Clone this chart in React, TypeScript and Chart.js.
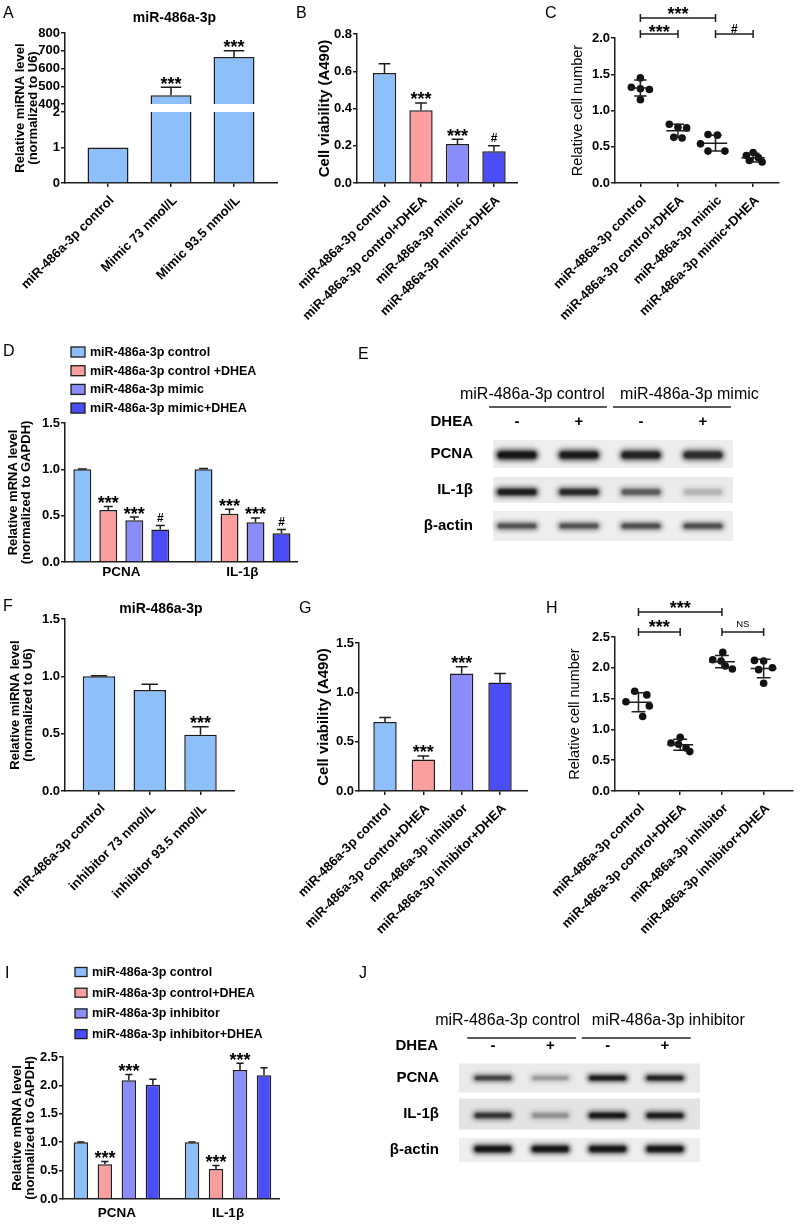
import React, { useEffect, useRef } from 'react';
import { Chart, registerables, LinearScale } from 'chart.js';

Chart.register(...registerables);

const FONT = "'Liberation Sans', Arial, Helvetica, sans-serif";

/* ============================ DATA ============================ */
// Panel A
const A_TITLE = 'miR-486a-3p';
const A_LABELS = ['miR-486a-3p control', 'Mimic 73 nmol/L', 'Mimic 93.5 nmol/L'];
const A_VALUES = [1, 450, 665];
const A_ERRORS = [0, 45, 35];
const A_SIG = ['', '***', '***'];
const A_Y_TICKS = [0, 1, 2, 400, 500, 600, 700, 800];
const A_BREAK_LOW = 2;
const A_BREAK_HIGH = 400;
const MIRNA_TITLE = ['Relative miRNA level', '(normalized to U6)'];

// Panel B
const MIMIC_GROUPS = ['miR-486a-3p control', 'miR-486a-3p control+DHEA', 'miR-486a-3p mimic', 'miR-486a-3p mimic+DHEA'];
const B_VALUES = [0.59, 0.39, 0.21, 0.17];
const B_ERRORS = [0.05, 0.04, 0.025, 0.03];
const B_SIG = ['', '***', '***', '#'];
const VIABILITY_TITLE = 'Cell viability (A490)';

// Panel C
const C_POINTS = [
  [1.45, 1.32, 1.30, 1.29, 1.15],
  [0.81, 0.77, 0.76, 0.63, 0.62],
  [0.67, 0.66, 0.54, 0.44, 0.44],
  [0.42, 0.38, 0.35, 0.31, 0.29],
];
const C_MEANS = [1.31, 0.72, 0.55, 0.35];
const C_SDS = [0.11, 0.09, 0.11, 0.06];
const C_BRACKETS = [
  { from: 0, to: 2, label: '***' },
  { from: 0, to: 1, label: '***' },
  { from: 2, to: 3, label: '#' },
];
const CELL_NUMBER_TITLE = 'Relative cell number';

// Panel D
const GENES = ['PCNA', 'IL-1β'];
const D_SERIES = ['miR-486a-3p control', 'miR-486a-3p control +DHEA', 'miR-486a-3p mimic', 'miR-486a-3p mimic+DHEA'];
const D_VALUES = [[1.0, 1.0], [0.56, 0.52], [0.45, 0.43], [0.35, 0.31]];
const D_ERRORS = [[0.004, 0.01], [0.04, 0.05], [0.035, 0.045], [0.045, 0.04]];
const D_SIG = [['', ''], ['***', '***'], ['***', '***'], ['#', '#']];
const MRNA_TITLE = ['Relative mRNA level', '(normalized to GAPDH)'];

// Panel E
const E_HEADERS = ['miR-486a-3p control', 'miR-486a-3p mimic'];
const TREATMENT = 'DHEA';
const DHEA_SIGNS = ['-', '+', '-', '+'];
const BLOT_ROWS = ['PCNA', 'IL-1β', 'β-actin'];
const E_BANDS = [
  [1.0, 0.95, 0.9, 0.82],
  [0.95, 0.85, 0.55, 0.18],
  [0.62, 0.62, 0.64, 0.64],
];

// Panel F
const F_TITLE = 'miR-486a-3p';
const F_LABELS = ['miR-486a-3p control', 'inhibitor 73 nmol/L', 'inhibitor 93.5 nmol/L'];
const F_VALUES = [1.0, 0.88, 0.49];
const F_ERRORS = [0.004, 0.05, 0.07];
const F_SIG = ['', '', '***'];

// Panel G
const INHIB_GROUPS = ['miR-486a-3p control', 'miR-486a-3p control+DHEA', 'miR-486a-3p inhibitor', 'miR-486a-3p inhibitor+DHEA'];
const G_VALUES = [0.70, 0.32, 1.19, 1.10];
const G_ERRORS = [0.045, 0.035, 0.07, 0.09];
const G_SIG = ['', '***', '***', ''];

// Panel H
const H_POINTS = [
  [1.62, 1.56, 1.45, 1.38, 1.21],
  [0.87, 0.78, 0.76, 0.70, 0.64],
  [2.25, 2.13, 2.11, 2.03, 1.98],
  [2.12, 2.11, 2.00, 1.97, 1.75],
];
const H_MEANS = [1.44, 0.75, 2.10, 1.99];
const H_SDS = [0.155, 0.09, 0.10, 0.15];
const H_BRACKETS = [
  { from: 0, to: 2, label: '***' },
  { from: 0, to: 1, label: '***' },
  { from: 2, to: 3, label: 'NS' },
];

// Panel I
const I_VALUES = [[1.0, 1.0], [0.61, 0.53], [2.09, 2.27], [2.01, 2.18]];
const I_ERRORS = [[0.004, 0.004], [0.05, 0.06], [0.10, 0.12], [0.10, 0.13]];
const I_SIG = [['', ''], ['***', '***'], ['***', '***'], ['', '']];

// Panel J
const J_HEADERS = ['miR-486a-3p control', 'miR-486a-3p inhibitor'];
const J_BANDS = [
  [0.72, 0.28, 1.0, 0.95],
  [0.78, 0.3, 1.0, 0.95],
  [1.0, 1.0, 1.0, 1.0],
];

const PANEL_LETTERS = ['A', 'B', 'C', 'D', 'E', 'F', 'G', 'H', 'I', 'J'];

/* ============================ STYLE ============================ */
const COLORS = ['#8DC0FA', '#FA9E9E', '#8A8DF9', '#4B4DF7'];
const EDGE = '#1c1c1c';
const TICK_FONT = { family: FONT, size: 13, weight: 'bold' as const };
const GROUP_FONT = { family: FONT, size: 13.5, weight: 'bold' as const };
const TITLE2_FONT = { family: FONT, size: 13, weight: 'bold' as const, lineHeight: 1 };
const VIAB_FONT = { family: FONT, size: 15, weight: 'bold' as const, lineHeight: 1 };
const CELLN_FONT = { family: FONT, size: 14.5, weight: 'normal' as const, lineHeight: 1 };
const BLOT_FONT = { family: FONT, size: 15, weight: 'bold' as const };

const LETTER_POS = [[3, 5], [296, 5], [545, 5], [3, 343], [358, 346], [3, 598], [299, 600], [546, 600], [5, 965], [359, 965]];

interface Frame { X: number; Y: number; W: number; H: number; L: number; T: number; R: number; B: number; xMin: number; xMax: number }
const FR_A: Frame = { X: 0, Y: 0, W: 278, H: 340, L: 65, T: 33, R: 278, B: 183, xMin: -0.6825, xMax: 2.698 };
const FR_B: Frame = { X: 262, Y: 0, W: 256, H: 340, L: 357, T: 34, R: 518, B: 183, xMin: -0.753, xMax: 3.658 };
const FR_C: Frame = { X: 520, Y: 0, W: 263, H: 340, L: 615, T: 38, R: 783, B: 183, xMin: -0.675, xMax: 3.689 };
const FR_D: Frame = { X: 0, Y: 340, W: 298, H: 250, L: 65, T: 423, R: 298, B: 562, xMin: -0.4645, xMax: 1.458 };
const FR_E: Frame = { X: 380, Y: 380, W: 398, H: 164, L: 493, T: 436, R: 733, B: 544, xMin: -0.387, xMax: 3.484 };
const FR_F: Frame = { X: 0, Y: 600, W: 235, H: 340, L: 65, T: 619, R: 235, B: 791, xMin: -0.67, xMax: 2.68 };
const FR_G: Frame = { X: 262, Y: 600, W: 266, H: 340, L: 359, T: 643, R: 528, B: 791, xMin: -0.678, xMax: 3.73 };
const FR_H: Frame = { X: 520, Y: 600, W: 277, H: 340, L: 615, T: 637, R: 797, B: 791, xMin: -0.5625, xMax: 3.703 };
const FR_I: Frame = { X: 0, Y: 940, W: 280, H: 286, L: 63, T: 1057, R: 280, B: 1199, xMin: -0.485, xMax: 1.468 };
const FR_J: Frame = { X: 340, Y: 1000, W: 420, H: 168, L: 459, T: 1060, R: 700, B: 1168, xMin: -0.593, xMax: 3.611 };

// horizontal jitter of the dots (in category units), per group
const C_SWARM_X = [[0, -0.24, 0, 0.24, 0], [-0.23, 0, 0.23, -0.11, 0.11], [-0.2, 0.05, -0.4, -0.2, 0.25], [0, -0.18, 0.14, -0.1, 0.24]];
const H_SWARM_X = [[-0.09, 0.2, -0.3, 0.26, 0.1], [0, -0.22, -0.04, 0.14, 0.23], [0.02, -0.22, -0.02, 0.08, 0.25], [-0.22, 0, 0.21, -0.12, 0]];
const C_BRACKET_STYLE = [{ dy: -20, gap: 8 }, { dy: -4, gap: 6 }, { dy: -4, gap: 6 }];
const H_BRACKET_STYLE = [{ dy: -25, gap: 8 }, { dy: -5, gap: 9 }, { dy: -5, gap: 8 }];

const BAR_STYLE = { cap: 0.5, starGap: 7, hashGap: 8 };
const LOW_FRAC = 0.4733;
const GAP_FRAC = 0.0533;

/* ===================== broken axis scale (panel A) ===================== */
class BrokenLinearScale extends LinearScale {
  static id = 'brokenLinear';
  static defaults = (LinearScale as any).defaults;
  getPixelForValue(value: any) {
    const v = Number(value);
    const max = (this as any).max;
    let d: number;
    if (v <= A_BREAK_LOW) d = (v / A_BREAK_LOW) * LOW_FRAC;
    else if (v < A_BREAK_HIGH) d = LOW_FRAC + GAP_FRAC * (v - A_BREAK_LOW) / (A_BREAK_HIGH - A_BREAK_LOW);
    else d = LOW_FRAC + GAP_FRAC + (1 - LOW_FRAC - GAP_FRAC) * (v - A_BREAK_HIGH) / (max - A_BREAK_HIGH);
    return (this as any).getPixelForDecimal(d);
  }
  getValueForPixel(pixel: number) {
    const d = (this as any).getDecimalForPixel(pixel);
    const max = (this as any).max;
    if (d <= LOW_FRAC) return (d / LOW_FRAC) * A_BREAK_LOW;
    if (d <= LOW_FRAC + GAP_FRAC) return A_BREAK_LOW + ((d - LOW_FRAC) / GAP_FRAC) * (A_BREAK_HIGH - A_BREAK_LOW);
    return A_BREAK_HIGH + ((d - LOW_FRAC - GAP_FRAC) / (1 - LOW_FRAC - GAP_FRAC)) * (max - A_BREAK_HIGH);
  }
}
Chart.register(BrokenLinearScale as any);

/* ============================ helpers ============================ */
const zeroPad = (s: any) => { s.paddingLeft = 0; s.paddingRight = 0; s.paddingTop = 0; s.paddingBottom = 0; };
const yW = (f: Frame) => f.L - f.X;
const xH = (f: Frame) => f.Y + f.H - f.B;

function baseOptions(f: Frame, scales: any) {
  return {
    responsive: false,
    animation: false,
    devicePixelRatio: 1,
    events: [],
    layout: { padding: { left: 0, top: f.T - f.Y, right: f.X + f.W - f.R, bottom: 0 } },
    plugins: { legend: { display: false }, tooltip: { enabled: false }, title: { display: false } },
    scales,
  };
}

function yAxis(p: { width: number; min: number; max: number; step?: number; ticks?: number[]; decimals: number; title: any; titleFont: any; titlePad: number }) {
  const ax: any = {
    type: 'linear',
    position: 'left',
    min: p.min,
    max: p.max,
    afterFit: (s: any) => { s.width = p.width; zeroPad(s); },
    ticks: { stepSize: p.step, padding: 1, color: '#000', font: TICK_FONT, callback: (v: any) => Number(v).toFixed(p.decimals) },
    grid: { display: true, drawOnChartArea: false, drawTicks: true, tickLength: 4, color: EDGE, lineWidth: 1.5 },
    border: { display: true, color: EDGE, width: 1.5 },
    title: { display: true, text: p.title, color: '#000', font: p.titleFont, padding: { top: p.titlePad, bottom: 0 } },
  };
  if (p.ticks) ax.afterBuildTicks = (s: any) => { s.ticks = p.ticks!.map((v) => ({ value: v })); };
  return ax;
}

function xAxis(f: Frame, labels: string[], rotated: boolean, pad: number, font: any) {
  const rot = rotated ? 45 : 0;
  const tick = rotated ? 4 : 0;
  return {
    type: 'linear',
    position: 'bottom',
    min: f.xMin,
    max: f.xMax,
    bounds: 'data',
    offset: false,
    afterBuildTicks: (s: any) => { s.ticks = labels.map((_, i) => ({ value: i })); },
    afterFit: (s: any) => { s.height = xH(f); zeroPad(s); },
    ticks: { autoSkip: false, maxRotation: rot, minRotation: rot, padding: pad, labelOffset: rotated ? 4 : 0, color: '#000', font, callback: (v: any) => labels[v] ?? '' },
    grid: { display: tick > 0, offset: false, drawOnChartArea: false, drawTicks: tick > 0, tickLength: tick, color: EDGE, lineWidth: 1.5 },
    border: { display: true, color: EDGE, width: 1.5 },
  };
}

function markFont(label: string) {
  if (label.includes('*')) return `bold 18px ${FONT}`;
  if (label.includes('#')) return `bold 12px ${FONT}`;
  return `9.5px ${FONT}`;
}

function drawMark(ctx: CanvasRenderingContext2D, label: string, x: number, yc: number) {
  ctx.font = markFont(label);
  ctx.textAlign = 'center';
  ctx.textBaseline = 'alphabetic';
  ctx.fillStyle = '#000';
  const m = ctx.measureText(label);
  ctx.fillText(label, x, yc + (m.actualBoundingBoxAscent - m.actualBoundingBoxDescent) / 2);
}

function drawBarErrors(chart: any, st: typeof BAR_STYLE) {
  const ctx: CanvasRenderingContext2D = chart.ctx;
  const ys = chart.scales.y;
  ctx.save();
  ctx.strokeStyle = EDGE;
  ctx.lineWidth = 1.5;
  chart.data.datasets.forEach((ds: any, di: number) => {
    const meta = chart.getDatasetMeta(di);
    meta.data.forEach((el: any, i: number) => {
      const v = ds.data[i].y;
      const e = ds.errorValues ? ds.errorValues[i] : 0;
      const yCap = ys.getPixelForValue(v + e);
      if (e > 0) {
        const hw = (el.width * st.cap) / 2;
        ctx.beginPath();
        ctx.moveTo(el.x, el.y);
        ctx.lineTo(el.x, yCap);
        ctx.moveTo(el.x - hw, yCap);
        ctx.lineTo(el.x + hw, yCap);
        ctx.stroke();
      }
      const mk = ds.sigMarks ? ds.sigMarks[i] : '';
      if (mk) drawMark(ctx, mk, el.x, yCap - (mk.includes('#') ? st.hashGap : st.starGap));
    });
  });
  ctx.restore();
}

function drawSwarm(chart: any, st: { mean: number; cap: number }) {
  const ctx: CanvasRenderingContext2D = chart.ctx;
  const xs = chart.scales.x;
  const ys = chart.scales.y;
  const s = Math.abs(xs.getPixelForValue(1) - xs.getPixelForValue(0));
  ctx.save();
  ctx.strokeStyle = EDGE;
  ctx.lineWidth = 1.5;
  chart.data.datasets.forEach((ds: any) => {
    if (ds.meanValue === undefined) return;
    const cx = xs.getPixelForValue(ds.groupIndex);
    const ym = ys.getPixelForValue(ds.meanValue);
    const yt = ys.getPixelForValue(ds.meanValue + ds.sdValue);
    const yb = ys.getPixelForValue(ds.meanValue - ds.sdValue);
    const mw = (s * st.mean) / 2;
    const cw = (s * st.cap) / 2;
    ctx.beginPath();
    ctx.moveTo(cx - mw, ym); ctx.lineTo(cx + mw, ym);
    ctx.moveTo(cx, yt); ctx.lineTo(cx, yb);
    ctx.moveTo(cx - cw, yt); ctx.lineTo(cx + cw, yt);
    ctx.moveTo(cx - cw, yb); ctx.lineTo(cx + cw, yb);
    ctx.stroke();
  });
  ctx.restore();
}

function drawBrackets(chart: any, list: { from: number; to: number; label: string }[], styles: { dy: number; gap: number }[]) {
  const ctx: CanvasRenderingContext2D = chart.ctx;
  const xs = chart.scales.x;
  const top = chart.chartArea.top;
  ctx.save();
  ctx.strokeStyle = EDGE;
  ctx.lineWidth = 1.5;
  list.forEach((b, k) => {
    const st = styles[k];
    const x1 = xs.getPixelForValue(b.from);
    const x2 = xs.getPixelForValue(b.to);
    const y = top + st.dy;
    ctx.beginPath();
    ctx.moveTo(x1, y); ctx.lineTo(x2, y);
    ctx.moveTo(x1, y - 4); ctx.lineTo(x1, y + 4);
    ctx.moveTo(x2, y - 4); ctx.lineTo(x2, y + 4);
    ctx.stroke();
    drawMark(ctx, b.label, (x1 + x2) / 2, y - st.gap);
  });
  ctx.restore();
}

function drawLegend(chart: any, st: { dx: number; dy: number; gapRow: number; bw: number; bh: number; gap: number; font: string }) {
  const ctx: CanvasRenderingContext2D = chart.ctx;
  const { left, top } = chart.chartArea;
  ctx.save();
  chart.data.datasets.forEach((ds: any, i: number) => {
    const yc = top + st.dy + i * st.gapRow;
    const bx = left + st.dx;
    ctx.fillStyle = ds.backgroundColor;
    ctx.fillRect(bx, yc - st.bh / 2, st.bw, st.bh);
    ctx.strokeStyle = EDGE;
    ctx.lineWidth = 1.3;
    ctx.strokeRect(bx, yc - st.bh / 2, st.bw, st.bh);
    ctx.fillStyle = '#000';
    ctx.font = st.font;
    ctx.textAlign = 'left';
    ctx.textBaseline = 'middle';
    ctx.fillText(ds.label, bx + st.bw + st.gap, yc + 0.5);
  });
  ctx.restore();
}

function drawGap(chart: any) {
  const ctx: CanvasRenderingContext2D = chart.ctx;
  const ys = chart.scales.y;
  const { left, right } = chart.chartArea;
  const y1 = ys.getPixelForValue(A_BREAK_HIGH);
  const y2 = ys.getPixelForValue(A_BREAK_LOW);
  ctx.save();
  ctx.fillStyle = '#ffffff';
  ctx.fillRect(left + 1.2, y1, right - left, y2 - y1);
  ctx.restore();
}

interface BlotStyle {
  headers: string[]; stripH: number[]; stripColor: string[]; bandH: number[]; bandDy: number[]; bandW: number;
  headerDy: number; underlineDy: number; labelDy: number; labelGap: number; ulExt: number; h1dx: number; h2dx: number;
}

function drawBlot(chart: any, st: BlotStyle) {
  const ctx: CanvasRenderingContext2D = chart.ctx;
  const xs = chart.scales.x;
  const ys = chart.scales.y;
  const { left, right, top } = chart.chartArea;
  const lane = xs.getPixelForValue(1) - xs.getPixelForValue(0);
  ctx.save();
  BLOT_ROWS.forEach((_, r) => {
    const yc = ys.getPixelForValue(r);
    const h = st.stripH[r];
    ctx.filter = 'blur(0.6px)';
    ctx.fillStyle = st.stripColor[r];
    ctx.fillRect(left, yc - h / 2, right - left, h);
  });
  const ds = chart.data.datasets[0];
  const meta = chart.getDatasetMeta(0);
  const nL = DHEA_SIGNS.length;
  meta.data.forEach((el: any, i: number) => {
    const r = Math.floor(i / nL);
    const v = ds.intensity[i];
    const w = lane * st.bandW;
    const h = st.bandH[r];
    const x = el.x;
    const y = el.y + st.bandDy[r];
    ctx.filter = 'blur(2px)';
    ctx.fillStyle = `rgba(10,10,10,${0.55 * v})`;
    ctx.beginPath();
    (ctx as any).roundRect(x - w / 2, y - h / 2 - 1, w, h + 2, (h + 2) / 2);
    ctx.fill();
    ctx.filter = 'blur(0.9px)';
    ctx.fillStyle = `rgba(5,5,5,${0.85 * v})`;
    ctx.beginPath();
    (ctx as any).roundRect(x - w / 2 + 3, y - h * 0.32, w - 6, h * 0.64, h * 0.32);
    ctx.fill();
  });
  ctx.filter = 'none';
  // group headers with underlines
  ctx.strokeStyle = '#222';
  ctx.lineWidth = 1.5;
  ctx.fillStyle = '#000';
  const pairs = [[0, 1], [2, 3]];
  pairs.forEach(([a, c], k) => {
    const x1 = xs.getPixelForValue(a) - lane * st.ulExt;
    const x2 = xs.getPixelForValue(c) + lane * st.ulExt;
    const yU = top + st.underlineDy;
    ctx.beginPath();
    ctx.moveTo(x1, yU);
    ctx.lineTo(x2, yU);
    ctx.stroke();
    ctx.font = `16px ${FONT}`;
    ctx.textBaseline = 'middle';
    if (k === 0) {
      ctx.textAlign = 'right';
      ctx.fillText(st.headers[0], x2 + st.h1dx, top + st.headerDy);
    } else {
      ctx.textAlign = 'left';
      ctx.fillText(st.headers[1], x1 + st.h2dx, top + st.headerDy);
    }
  });
  ctx.font = `bold 15px ${FONT}`;
  ctx.textAlign = 'right';
  ctx.textBaseline = 'middle';
  ctx.fillText(TREATMENT, left - st.labelGap, top + st.labelDy);
  ctx.restore();
}

function makeExtras(cfg: any) {
  return {
    id: 'extras',
    beforeDatasetsDraw(chart: any) { if (cfg.blot) drawBlot(chart, cfg.blot); },
    afterDatasetsDraw(chart: any) {
      if (cfg.gap) drawGap(chart);
      if (cfg.bars) drawBarErrors(chart, cfg.bars);
      if (cfg.swarm) drawSwarm(chart, cfg.swarm);
      if (cfg.brackets) drawBrackets(chart, cfg.brackets, cfg.bracketStyle);
    },
    afterDraw(chart: any) { if (cfg.legend) drawLegend(chart, cfg.legend); },
  };
}

/* ============================ chart builders ============================ */
function singleBars(f: Frame, labels: string[], values: number[], errors: number[], sig: string[], colors: string | string[], barPct: number, y: any, extra: any = {}) {
  return {
    type: 'bar',
    data: {
      datasets: [{
        data: values.map((v, i) => ({ x: i, y: v })),
        backgroundColor: colors,
        borderColor: EDGE,
        borderWidth: 1.5,
        barPercentage: barPct,
        categoryPercentage: 1,
        errorValues: errors,
        sigMarks: sig,
      }],
    },
    options: baseOptions(f, { x: xAxis(f, labels, true, 6, TICK_FONT), y }),
    plugins: [makeExtras({ bars: BAR_STYLE, ...extra })],
  };
}

function groupedBars(f: Frame, series: string[], values: number[][], errors: number[][], sig: string[][], cp: number, bp: number, y: any, legend: any) {
  return {
    type: 'bar',
    data: {
      datasets: series.map((name, si) => ({
        label: name,
        data: GENES.map((_, gi) => ({ x: gi, y: values[si][gi] })),
        backgroundColor: COLORS[si],
        borderColor: EDGE,
        borderWidth: 1.5,
        barPercentage: bp,
        categoryPercentage: cp,
        errorValues: errors[si],
        sigMarks: sig[si],
      })),
    },
    options: baseOptions(f, { x: xAxis(f, GENES, false, legend.xPad, GROUP_FONT), y }),
    plugins: [makeExtras({ bars: BAR_STYLE, legend })],
  };
}

function swarmChart(f: Frame, labels: string[], points: number[][], means: number[], sds: number[], jitter: number[][], brackets: any, bracketStyle: any, y: any) {
  return {
    type: 'scatter',
    data: {
      datasets: points.map((grp, gi) => ({
        data: grp.map((v, k) => ({ x: gi + jitter[gi][k], y: v })),
        pointRadius: 3.8,
        pointBackgroundColor: '#111',
        pointBorderColor: '#111',
        pointBorderWidth: 0,
        meanValue: means[gi],
        sdValue: sds[gi],
        groupIndex: gi,
      })),
    },
    options: baseOptions(f, { x: xAxis(f, labels, true, 6, TICK_FONT), y }),
    plugins: [makeExtras({ swarm: { mean: 0.62, cap: 0.33 }, brackets, bracketStyle })],
  };
}

function blotChart(f: Frame, bands: number[][], st: BlotStyle) {
  const pts: any[] = [];
  const inten: number[] = [];
  BLOT_ROWS.forEach((row, r) => {
    DHEA_SIGNS.forEach((_, l) => { pts.push({ x: l, y: row }); inten.push(bands[r][l]); });
  });
  return {
    type: 'scatter',
    data: { datasets: [{ data: pts, intensity: inten, pointRadius: 0, pointHoverRadius: 0 }] },
    options: {
      responsive: false,
      animation: false,
      devicePixelRatio: 1,
      events: [],
      layout: { padding: { left: 0, top: 0, right: f.X + f.W - f.R, bottom: f.Y + f.H - f.B } },
      plugins: { legend: { display: false }, tooltip: { enabled: false } },
      scales: {
        x: {
          type: 'linear', position: 'top', min: f.xMin, max: f.xMax, bounds: 'data',
          afterBuildTicks: (s: any) => { s.ticks = DHEA_SIGNS.map((_, i) => ({ value: i })); },
          afterFit: (s: any) => { s.height = f.T - f.Y; zeroPad(s); },
          ticks: { autoSkip: false, maxRotation: 0, minRotation: 0, padding: 5, color: '#000', font: BLOT_FONT, callback: (v: any) => DHEA_SIGNS[v] ?? '' },
          grid: { display: false, drawTicks: false },
          border: { display: false },
        },
        y: {
          type: 'category', labels: BLOT_ROWS, offset: true, position: 'left',
          afterFit: (s: any) => { s.width = f.L - f.X; zeroPad(s); },
          ticks: { padding: 20, color: '#000', font: BLOT_FONT },
          grid: { display: false, drawTicks: false },
          border: { display: false },
        },
      },
    },
    plugins: [makeExtras({ blot: st })],
  };
}

/* ============================ panels ============================ */
const buildA = () => singleBars(FR_A, A_LABELS, A_VALUES, A_ERRORS, A_SIG, COLORS[0], 0.65,
  { ...yAxis({ width: yW(FR_A), min: 0, max: 800, ticks: A_Y_TICKS, decimals: 0, title: MIRNA_TITLE, titleFont: TITLE2_FONT, titlePad: 14 }), type: 'brokenLinear' },
  { gap: true });

const buildB = () => singleBars(FR_B, MIMIC_GROUPS, B_VALUES, B_ERRORS, B_SIG, COLORS, 0.64,
  yAxis({ width: yW(FR_B), min: 0, max: 0.8, step: 0.2, decimals: 1, title: VIABILITY_TITLE, titleFont: VIAB_FONT, titlePad: 55 }));

const buildC = () => swarmChart(FR_C, MIMIC_GROUPS, C_POINTS, C_MEANS, C_SDS, C_SWARM_X, C_BRACKETS, C_BRACKET_STYLE,
  yAxis({ width: yW(FR_C), min: 0, max: 2, step: 0.5, decimals: 1, title: CELL_NUMBER_TITLE, titleFont: CELLN_FONT, titlePad: 50.75 }));

const buildD = () => groupedBars(FR_D, D_SERIES, D_VALUES, D_ERRORS, D_SIG, 0.858, 0.69,
  yAxis({ width: yW(FR_D), min: 0, max: 1.5, step: 0.5, decimals: 1, title: MRNA_TITLE, titleFont: TITLE2_FONT, titlePad: 7 }),
  { dx: 6, dy: -71, gapRow: 18.7, bw: 14, bh: 10, gap: 5, font: `bold 12.5px ${FONT}`, xPad: 2 });

const buildE = () => blotChart(FR_E, E_BANDS, {
  headers: E_HEADERS, stripH: [28, 26, 30], stripColor: ['#ededed', '#ebebeb', '#eeeeee'], bandH: [11, 9, 8], bandDy: [1, 2, 0], bandW: 0.72,
  headerDy: -41, underlineDy: -29, labelDy: -14, labelGap: 20, ulExt: 0.45, h1dx: -2, h2dx: 7,
});

const buildF = () => singleBars(FR_F, F_LABELS, F_VALUES, F_ERRORS, F_SIG, COLORS[0], 0.64,
  yAxis({ width: yW(FR_F), min: 0, max: 1.5, step: 0.5, decimals: 1, title: MIRNA_TITLE, titleFont: TITLE2_FONT, titlePad: 9 }));

const buildG = () => singleBars(FR_G, INHIB_GROUPS, G_VALUES, G_ERRORS, G_SIG, COLORS, 0.61,
  yAxis({ width: yW(FR_G), min: 0, max: 1.5, step: 0.5, decimals: 1, title: VIABILITY_TITLE, titleFont: VIAB_FONT, titlePad: 54 }));

const buildH = () => swarmChart(FR_H, INHIB_GROUPS, H_POINTS, H_MEANS, H_SDS, H_SWARM_X, H_BRACKETS, H_BRACKET_STYLE,
  yAxis({ width: yW(FR_H), min: 0, max: 2.5, step: 0.5, decimals: 1, title: CELL_NUMBER_TITLE, titleFont: CELLN_FONT, titlePad: 47.75 }));

const buildI = () => groupedBars(FR_I, INHIB_GROUPS, I_VALUES, I_ERRORS, I_SIG, 0.864, 0.6,
  yAxis({ width: yW(FR_I), min: 0, max: 2.5, step: 0.5, decimals: 1, title: MRNA_TITLE, titleFont: TITLE2_FONT, titlePad: 11 }),
  { dx: 12, dy: -85, gapRow: 20.7, bw: 12, bh: 9, gap: 5, font: `bold 12.5px ${FONT}`, xPad: 6 });

const buildJ = () => blotChart(FR_J, J_BANDS, {
  headers: J_HEADERS, stripH: [29, 31, 24], stripColor: ['#eaeaea', '#e3e3e3', '#eeeeee'], bandH: [7, 8, 9], bandDy: [0, 1.5, -1], bandW: 0.74,
  headerDy: -39, underlineDy: -22, labelDy: -14, labelGap: 21, ulExt: 0.45, h1dx: 4, h2dx: 10,
});

/* ============================ React ============================ */
function Panel({ f, build }: { f: Frame; build: () => any }) {
  const ref = useRef<HTMLCanvasElement | null>(null);
  useEffect(() => {
    if (!ref.current) return;
    const chart = new Chart(ref.current, build());
    return () => { chart.destroy(); };
  }, []);
  return (
    <canvas
      ref={ref}
      width={f.W}
      height={f.H}
      style={{ position: 'absolute', left: f.X, top: f.Y, width: f.W, height: f.H }}
    />
  );
}

export default function App() {
  return (
    <div style={{ position: 'absolute', left: 0, top: 0, width: 800, height: 1226, overflow: 'hidden', background: '#fff', fontFamily: FONT, color: '#000' }}>
      <Panel f={FR_A} build={buildA} />
      <Panel f={FR_B} build={buildB} />
      <Panel f={FR_C} build={buildC} />
      <Panel f={FR_D} build={buildD} />
      <Panel f={FR_E} build={buildE} />
      <Panel f={FR_F} build={buildF} />
      <Panel f={FR_G} build={buildG} />
      <Panel f={FR_H} build={buildH} />
      <Panel f={FR_I} build={buildI} />
      <Panel f={FR_J} build={buildJ} />
      {PANEL_LETTERS.map((l, i) => (
        <div key={l} style={{ position: 'absolute', left: LETTER_POS[i][0], top: LETTER_POS[i][1], fontSize: 16, lineHeight: '16px', fontFamily: FONT }}>{l}</div>
      ))}
      <div style={{ position: 'absolute', left: 74.5, top: 10, width: 200, textAlign: 'center', fontSize: 14, lineHeight: '14px', fontWeight: 'bold', fontFamily: FONT }}>{A_TITLE}</div>
      <div style={{ position: 'absolute', left: 61, top: 601, width: 200, textAlign: 'center', fontSize: 14, lineHeight: '14px', fontWeight: 'bold', fontFamily: FONT }}>{F_TITLE}</div>
    </div>
  );
}
